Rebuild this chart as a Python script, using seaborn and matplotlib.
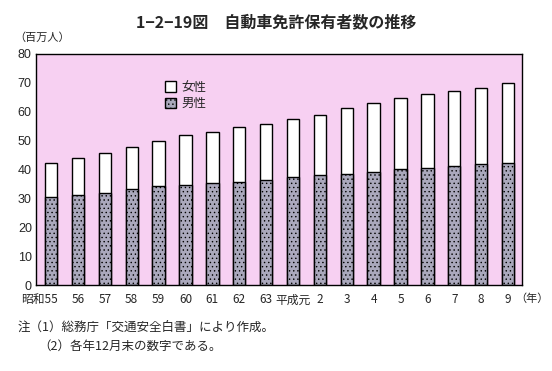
import matplotlib
matplotlib.use("Agg")
import matplotlib.pyplot as plt
import matplotlib.transforms as mtransforms
import seaborn as sns
import pandas as pd
from matplotlib.patches import Patch

years = ["昭和55", "56", "57", "58", "59", "60", "61", "62", "63",
         "平成元", "2", "3", "4", "5", "6", "7", "8", "9"]
total = [42.1, 43.9, 45.7, 47.7, 49.9, 52.0, 53.1, 54.8, 55.9,
         57.5, 58.8, 61.2, 62.9, 64.7, 66.1, 67.1, 68.2, 69.9]
male = [30.6, 31.3, 32.0, 33.1, 34.2, 34.6, 35.3, 35.8, 36.4,
        37.3, 38.0, 38.4, 39.1, 40.1, 40.5, 41.3, 41.8, 42.2]
yticks = [0, 10, 20, 30, 40, 50, 60, 70, 80]

df = pd.DataFrame({"year": years, "total": total, "male": male})

sns.set_theme(style="white")
plt.rcParams["font.family"] = ["Noto Sans CJK JP", "DejaVu Sans"]
plt.rcParams["hatch.color"] = "#5c5a70"
plt.rcParams["hatch.linewidth"] = 0.5

fig = plt.figure(figsize=(5.52, 3.71), dpi=100)
ax = fig.add_axes([36 / 552, 1 - 285 / 371, (522 - 36) / 552, (285 - 54) / 371])
ax.set_facecolor("#f7d0f2")

male_color = "#aaa8bc"
sns.barplot(data=df, x="year", y="total", order=years, color="white",
            edgecolor="black", linewidth=1.0, width=0.46, ax=ax, saturation=1)
sns.barplot(data=df, x="year", y="male", order=years, color=male_color,
            edgecolor="black", linewidth=1.0, width=0.46, ax=ax, saturation=1)
for p in ax.patches[len(years):]:
    p.set_hatch("....")

ax.set_xlim(-0.56, 17.52)
ax.set_ylim(0, 80)
ax.set_yticks(yticks)
ax.set_yticklabels([str(v) for v in yticks], fontsize=9, family="Liberation Sans")
ax.set_xticks(range(len(years)))
ax.set_xticklabels(years, fontsize=8.5)
ax.tick_params(axis="y", length=0, pad=3)
ax.tick_params(axis="x", length=0, pad=6)
ax.set_xlabel("")
ax.set_ylabel("")
for s in ax.spines.values():
    s.set_visible(True)
    s.set_color("black")
    s.set_linewidth(1.0)

# first label: keep "55" under its bar, era name extending left
first = ax.get_xticklabels()[0]
first.set_horizontalalignment("right")
first.set_transform(first.get_transform() +
                    mtransforms.ScaledTranslation(7 / 100, 0, fig.dpi_scale_trans))

# legend
handles = [Patch(facecolor="white", edgecolor="black", label="女性"),
           Patch(facecolor=male_color, edgecolor="black", hatch="....", label="男性")]
ax.legend(handles=handles, loc="upper left", bbox_to_anchor=(0.255, 0.905),
          frameon=False, fontsize=9, handlelength=0.9, handleheight=0.9,
          handletextpad=0.4, labelspacing=0.25, borderaxespad=0)

fig.text(0.5, 1 - 22 / 371, "1−2−19図　自動車免許保有者数の推移", ha="center", va="center",
         fontsize=11.5, fontweight="bold")
fig.text(14 / 552, 1 - 38 / 371, "（百万人）", ha="left", va="center", fontsize=8)
fig.text(515 / 552, 1 - 299 / 371, "（年）", ha="left", va="center", fontsize=8)
fig.text(18 / 552, 1 - 327 / 371, "注（1）総務庁「交通安全白書」により作成。", ha="left", va="center", fontsize=9)
fig.text(38 / 552, 1 - 346 / 371, "（2）各年12月末の数字である。", ha="left", va="center", fontsize=9)

fig.savefig("out.png", dpi=100)
